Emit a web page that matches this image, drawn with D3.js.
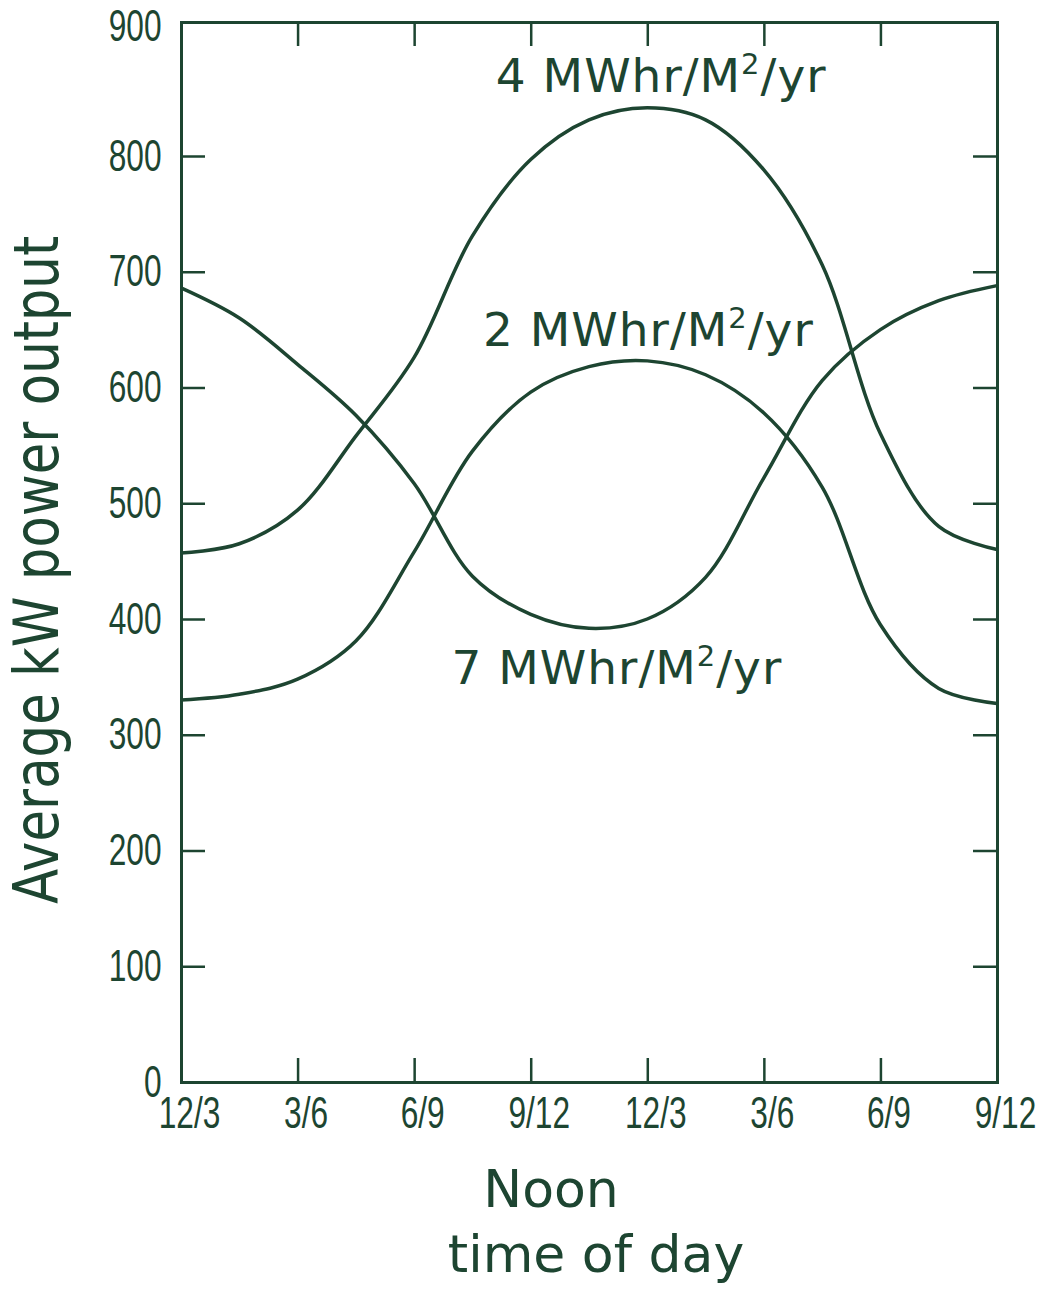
<!DOCTYPE html>
<html>
<head>
<meta charset="utf-8">
<script src="https://cdn.jsdelivr.net/npm/d3@7"></script>
<style>
  body { margin: 0; background: #fff; }
  svg { display: block; }
</style>
</head>
<body>
<div id="chart"></div>
<script>
// data
var hours = [0, 0.5, 1, 1.5, 2, 2.5, 3, 3.5, 4, 4.5, 5, 5.5, 6, 6.5, 7];
var out4 = [457, 465, 494, 558, 626, 731, 797, 827, 836, 827, 788, 706, 560, 480, 460];
var out2 = [330, 335, 348, 381, 458, 545, 596, 618, 623, 611, 578, 514, 395, 340, 327];
var out7 = [686, 660, 620, 576, 517, 437, 404, 392, 400, 436, 522, 606, 650, 675, 688];
var xTickLabels = ["12/3", "3/6", "6/9", "9/12", "12/3", "3/6", "6/9", "9/12"];
var yTicks = [0, 100, 200, 300, 400, 500, 600, 700, 800, 900];
var seriesLabels = [
  { num: "4", values: out4, at: [2.7, 848] },
  { num: "2", values: out2, at: [2.59, 636] },
  { num: "7", values: out7, at: [2.32, 344] }
];

var ink = "#1d4531";
var width = 1050, height = 1298;

var svg = d3.select("#chart").append("svg")
  .attr("width", width)
  .attr("height", height)
  .style("background", "#fff");

var x = d3.scaleLinear().domain([0, 7]).range([181, 997]);
// hand drawn axis: the top interval is a bit taller than the others
var y = d3.scaleLinear().domain([0, 800, 900]).range([1082, 156, 22]);

var narrow = 0.72;
var tickFont = "'Liberation Sans', Arial, sans-serif";
var textFont = "'DejaVu Sans', Verdana, sans-serif";

function styleAxis(g) {
  g.select(".domain").attr("stroke", ink).attr("stroke-width", 3).attr("stroke-linecap", "square");
  g.selectAll(".tick line").attr("stroke", ink).attr("stroke-width", 2.5);
}

// left axis with labels
var leftAxis = svg.append("g")
  .attr("transform", "translate(" + x(0) + ",0)")
  .call(d3.axisLeft(y).tickValues(yTicks).tickSize(-24).tickSizeOuter(0).tickPadding(27));
styleAxis(leftAxis);
leftAxis.selectAll(".tick text")
  .attr("fill", ink)
  .attr("dy", function (d) { return d === 900 ? "0.42em" : "0.32em"; })
  .style("font-family", tickFont)
  .style("font-size", "44px")
  .attr("transform", "scale(" + narrow + ",1)");

// bottom axis with labels
var bottomAxis = svg.append("g")
  .attr("transform", "translate(0," + y(0) + ")")
  .call(d3.axisBottom(x).tickValues(d3.range(8)).tickSize(-24).tickSizeOuter(0).tickPadding(15)
    .tickFormat(function (d) { return xTickLabels[d]; }));
styleAxis(bottomAxis);
bottomAxis.selectAll(".tick text")
  .attr("fill", ink)
  .attr("x", 8 / narrow)
  .style("font-family", tickFont)
  .style("font-size", "44px")
  .attr("transform", "scale(" + narrow + ",1)");

// top and right axes, ticks only
var topAxis = svg.append("g")
  .attr("transform", "translate(0," + y(900) + ")")
  .call(d3.axisTop(x).tickValues(d3.range(1, 7)).tickSize(-24).tickSizeOuter(0).tickFormat(""));
styleAxis(topAxis);

var rightAxis = svg.append("g")
  .attr("transform", "translate(" + x(7) + ",0)")
  .call(d3.axisRight(y).tickValues(yTicks.slice(1, 9)).tickSize(-24).tickSizeOuter(0).tickFormat(""));
styleAxis(rightAxis);

// curves
var line = d3.line()
  .x(function (d, i) { return x(hours[i]); })
  .y(function (d) { return y(d); })
  .curve(d3.curveCatmullRom.alpha(0.5));

svg.append("g").selectAll("path")
  .data(seriesLabels)
  .join("path")
  .attr("d", function (d) { return line(d.values); })
  .attr("fill", "none")
  .attr("stroke", ink)
  .attr("stroke-width", 3.5);

// series labels
var labels = svg.append("g").selectAll("text")
  .data(seriesLabels)
  .join("text")
  .attr("x", function (d) { return x(d.at[0]); })
  .attr("y", function (d) { return y(d.at[1]); })
  .attr("fill", ink)
  .style("font-family", textFont)
  .style("font-size", "47px")
  .style("letter-spacing", "1px");
labels.append("tspan").text(function (d) { return d.num + " MWhr/M"; });
labels.append("tspan").attr("dy", -18).style("font-size", "29px").text("2");
labels.append("tspan").attr("dy", 18).text("/yr");

// axis titles
svg.append("text")
  .attr("transform", "translate(58,570) rotate(-90)")
  .attr("text-anchor", "middle")
  .attr("textLength", 668)
  .attr("lengthAdjust", "spacingAndGlyphs")
  .attr("fill", ink)
  .style("font-family", textFont)
  .style("font-size", "62px")
  .text("Average kW power output");

svg.append("text")
  .attr("x", 551)
  .attr("y", 1207)
  .attr("text-anchor", "middle")
  .attr("fill", ink)
  .style("font-family", textFont)
  .style("font-size", "52px")
  .text("Noon");

svg.append("text")
  .attr("x", 596)
  .attr("y", 1272)
  .attr("text-anchor", "middle")
  .attr("fill", ink)
  .style("font-family", textFont)
  .style("font-size", "52px")
  .text("time of day");
</script>
</body>
</html>
